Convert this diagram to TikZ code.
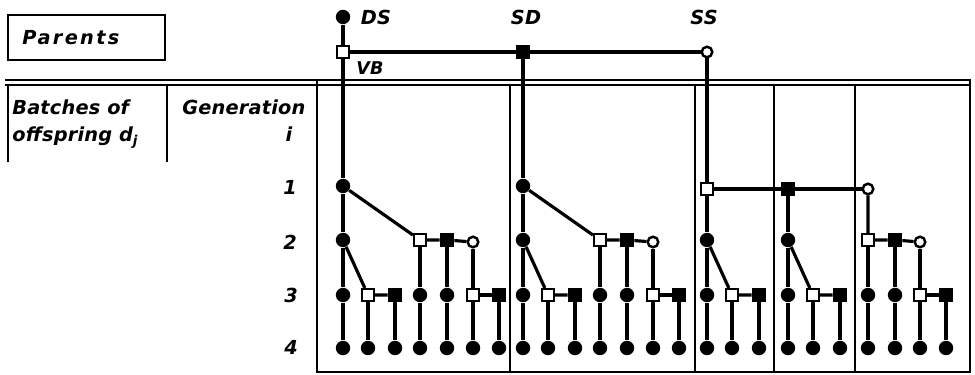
\documentclass[tikz,border=0pt]{standalone}
\usepackage{fontspec}
\setmainfont{DejaVu Sans}
\newfontfamily\lblfont{DejaVu Sans}[LetterSpace=1]
\newfontfamily\widefont{DejaVu Sans}[LetterSpace=12]
\begin{document}
\begin{tikzpicture}[x=0.02cm,y=-0.02cm,
  ln/.style={line width=1.8pt},
  frame/.style={line width=1.4pt},
  fc/.style={circle, fill=black, inner sep=0pt, minimum size=8.2pt},
  oc/.style={circle, draw, line width=1.4pt, fill=white, inner sep=0pt, minimum size=6pt},
  fs/.style={rectangle, fill=black, inner sep=0pt, minimum size=8pt},
  os/.style={rectangle, draw, line width=1.4pt, fill=white, inner sep=0pt, minimum size=6.6pt},
  txt/.style={inner sep=0pt, font=\lblfont\bfseries\itshape\fontsize{11}{13}\selectfont},
  small/.style={inner sep=0pt, font=\lblfont\bfseries\itshape\fontsize{10}{12}\selectfont}]
\useasboundingbox (0,0) rectangle (975,375);

% ---------- frame ----------
\draw[frame] (8,15) rectangle (165,60);
\draw[frame] (5,80) -- (971,80);
\draw[frame] (5,85) -- (971,85);
\draw[frame] (8,85) -- (8,162);
\draw[frame] (167,85) -- (167,162);
\draw[frame] (317,80) -- (317,372) -- (970,372) -- (970,80);
\foreach \xx in {510,695,774,855} \draw[frame] (\xx,85) -- (\xx,372);

% ---------- texts ----------
\node[txt, anchor=base west, font=\widefont\bfseries\itshape\fontsize{11}{13}\selectfont] (tpar) at (22,45) {Parents};
\node[txt, anchor=base west] (tbat) at (12,115) {Batches of};
\node[txt, anchor=base west] (toff) at (12,142) {offspring d\textsubscript{j}};
\node[txt, anchor=base west] (tgen) at (182,115) {Generation};
\node[txt, anchor=base] (ti) at (289,142) {i};
\node[txt] (n1) at (290,187) {1};
\node[txt] (n2) at (290,242) {2};
\node[txt] (n3) at (291,295) {3};
\node[txt] (n4) at (291,347) {4};

% ---------- parents ----------
\node[fc] (DS) at (343,17) {};
\node[os] (VB) at (343,52) {};
\node[fs] (SD) at (523,52) {};
\node[oc] (SS) at (707,52) {};
\node[txt] (tDS) at (376,17) {DS};
\node[txt] (tSD) at (526,17) {SD};
\node[txt] (tSS) at (704,17) {SS};
\node[small] (tVB) at (370,68) {VB};
\draw[ln] (DS) -- (VB) -- (SD) -- (SS);

% ---------- panels 1 and 2 ----------
\foreach \p/\o/\q in {a/0/VB, b/180/SD}{
  \node[fc] (\p1) at ({343+\o},186) {};
  \node[fc] (\p2) at ({343+\o},240) {};
  \node[fc] (\p3) at ({343+\o},295) {};
  \node[fc] (\p4) at ({343+\o},348) {};
  \node[os] (\p s) at ({420+\o},240) {};
  \node[fs] (\p F) at ({447+\o},240) {};
  \node[oc] (\p O) at ({473+\o},242) {};
  \node[os] (\p t) at ({368+\o},295) {};
  \node[fs] (\p u) at ({395+\o},295) {};
  \node[fc] (\p v) at ({420+\o},295) {};
  \node[fc] (\p w) at ({447+\o},295) {};
  \node[os] (\p x) at ({473+\o},295) {};
  \node[fs] (\p y) at ({499+\o},295) {};
  \node[fc] (\p k1) at ({368+\o},348) {};
  \node[fc] (\p k2) at ({395+\o},348) {};
  \node[fc] (\p k3) at ({420+\o},348) {};
  \node[fc] (\p k4) at ({447+\o},348) {};
  \node[fc] (\p k5) at ({473+\o},348) {};
  \node[fc] (\p k6) at ({499+\o},348) {};
  \draw[ln] (\q) -- (\p1) -- (\p2) -- (\p3) -- (\p4);
  \draw[ln] (\p1) -- (\p s) -- (\p F) -- (\p O);
  \draw[ln] (\p2) -- (\p t) -- (\p u);
  \draw[ln] (\p t) -- (\p k1);
  \draw[ln] (\p u) -- (\p k2);
  \draw[ln] (\p s) -- (\p v) -- (\p k3);
  \draw[ln] (\p F) -- (\p w) -- (\p k4);
  \draw[ln] (\p O) -- (\p x) -- (\p k5);
  \draw[ln] (\p x) -- (\p y) -- (\p k6);
}

% ---------- panels 3, 4, 5 ----------
\node[os] (f0) at (707,189) {};
\node[fs] (g0) at (788,189) {};
\node[oc] (h0) at (868,189) {};
\draw[ln] (SS) -- (f0) -- (g0) -- (h0);

\foreach \p/\X in {f/707, g/788}{
  \node[fc] (\p2) at (\X,240) {};
  \node[fc] (\p3) at (\X,295) {};
  \node[fc] (\p4) at (\X,348) {};
  \node[os] (\p t) at ({\X+25},295) {};
  \node[fs] (\p u) at ({\X+52},295) {};
  \node[fc] (\p k1) at ({\X+25},348) {};
  \node[fc] (\p k2) at ({\X+52},348) {};
  \draw[ln] (\p0) -- (\p2) -- (\p3) -- (\p4);
  \draw[ln] (\p2) -- (\p t) -- (\p u);
  \draw[ln] (\p t) -- (\p k1);
  \draw[ln] (\p u) -- (\p k2);
}

\node[os] (hs) at (868,240) {};
\node[fs] (hF) at (895,240) {};
\node[oc] (hO) at (920,242) {};
\node[fc] (hv) at (868,295) {};
\node[fc] (hw) at (895,295) {};
\node[os] (hx) at (920,295) {};
\node[fs] (hy) at (946,295) {};
\node[fc] (hk1) at (868,348) {};
\node[fc] (hk2) at (895,348) {};
\node[fc] (hk3) at (920,348) {};
\node[fc] (hk4) at (946,348) {};
\draw[ln] (h0) -- (hs) -- (hF) -- (hO);
\draw[ln] (hs) -- (hv) -- (hk1);
\draw[ln] (hF) -- (hw) -- (hk2);
\draw[ln] (hO) -- (hx) -- (hk3);
\draw[ln] (hx) -- (hy) -- (hk4);
\end{tikzpicture}
\end{document}
